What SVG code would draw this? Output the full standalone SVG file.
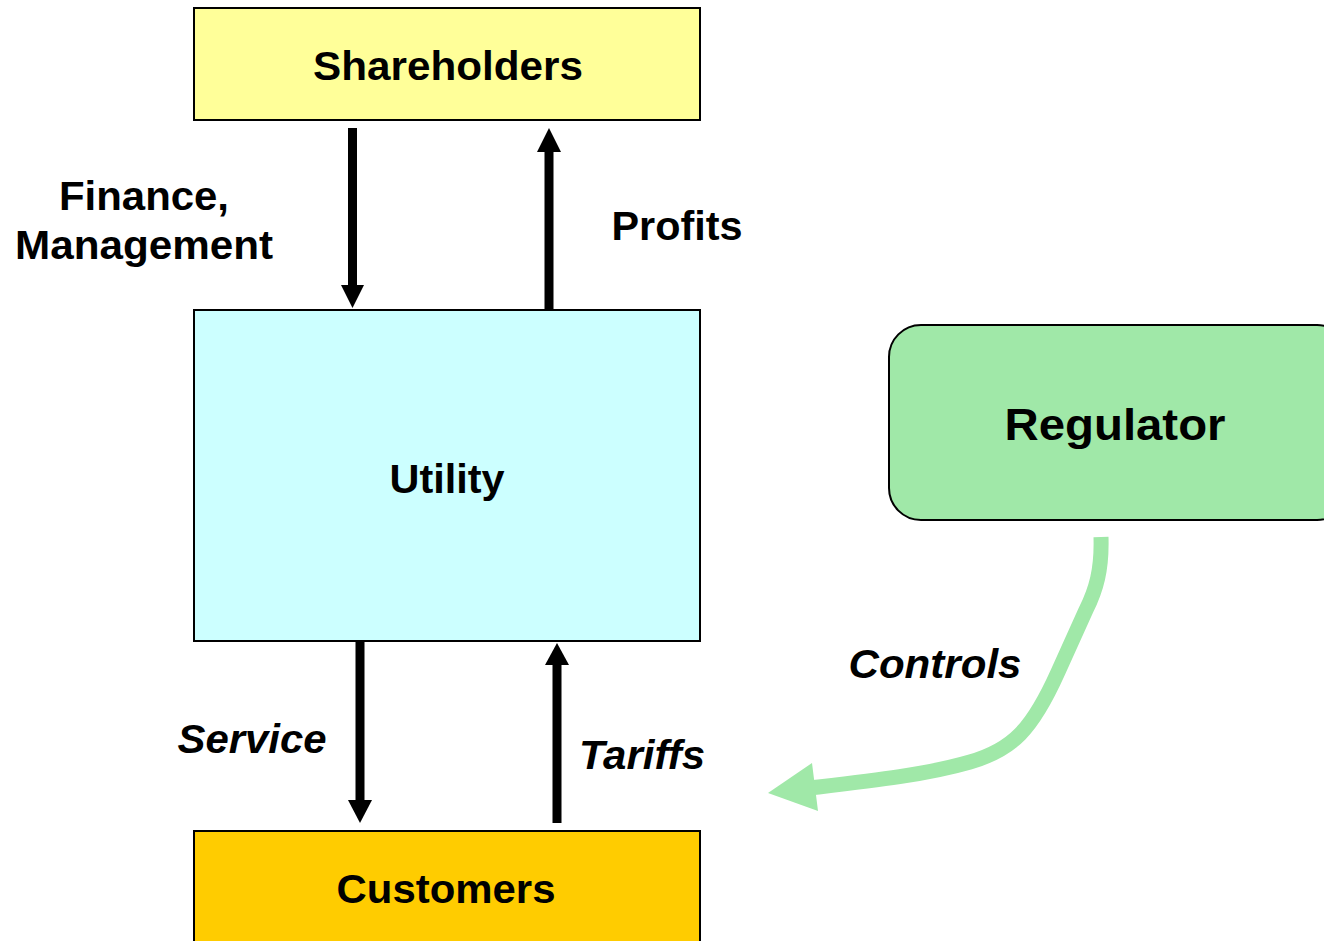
<svg xmlns="http://www.w3.org/2000/svg" width="1324" height="941" viewBox="0 0 1324 941">
  <style>
    .box { stroke: #000; stroke-width: 2; }
    .lbl { font-family: "Liberation Sans", Arial, sans-serif; font-weight: bold; fill: #000; }
    .it { font-style: italic; }
    .shaft { stroke: #000; stroke-width: 9; fill: none; }
    .head { fill: #000; }
  </style>
  <rect width="1324" height="941" fill="#fff"/>
  <g id="shareholders">
    <rect class="box" x="194" y="8" width="506" height="112" fill="#FFFF99"/>
    <text class="lbl" x="448" y="80" font-size="40" text-anchor="middle" textLength="270" lengthAdjust="spacingAndGlyphs">Shareholders</text>
  </g>
  <g id="utility">
    <rect class="box" x="194" y="310" width="506" height="331" fill="#CCFFFF"/>
    <text class="lbl" x="447" y="493" font-size="40" text-anchor="middle" textLength="115" lengthAdjust="spacingAndGlyphs">Utility</text>
  </g>
  <g id="customers">
    <rect class="box" x="194" y="831" width="506" height="130" fill="#FFCC00"/>
    <text class="lbl" x="446" y="903" font-size="40" text-anchor="middle" textLength="219" lengthAdjust="spacingAndGlyphs">Customers</text>
  </g>
  <g id="regulator">
    <rect class="box" x="889" y="325" width="460" height="195" rx="32" ry="32" fill="#A0E8A8"/>
    <text class="lbl" x="1115" y="440" font-size="44" text-anchor="middle" textLength="221" lengthAdjust="spacingAndGlyphs">Regulator</text>
  </g>
  <g id="connectors">
    <line class="shaft" x1="352.5" y1="128" x2="352.5" y2="290"/>
    <polygon class="head" points="341,285 364,285 352.5,308"/>
    <line class="shaft" x1="549" y1="148" x2="549" y2="309"/>
    <polygon class="head" points="537,152 561,152 549,128"/>
    <line class="shaft" x1="360" y1="642" x2="360" y2="805"/>
    <polygon class="head" points="348,800 372,800 360,823"/>
    <line class="shaft" x1="557" y1="660" x2="557" y2="823"/>
    <polygon class="head" points="545,665 569,665 557,643"/>
    <path d="M1101,537 C1102,570 1096,590 1086,610 L1058,672 C1032,730 1012,750 970,762 C925,775 870,781 810,788" fill="none" stroke="#A0E8A8" stroke-width="15"/>
    <polygon points="768,793 812,763 818,811" fill="#A0E8A8"/>
  </g>
  <g id="labels">
    <text class="lbl" x="144" y="210" font-size="40" text-anchor="middle" textLength="170" lengthAdjust="spacingAndGlyphs">Finance,</text>
    <text class="lbl" x="144" y="259" font-size="40" text-anchor="middle" textLength="258" lengthAdjust="spacingAndGlyphs">Management</text>
    <text class="lbl" x="677" y="240" font-size="40" text-anchor="middle" textLength="131" lengthAdjust="spacingAndGlyphs">Profits</text>
    <text class="lbl it" x="252" y="753" font-size="40" text-anchor="middle" textLength="149" lengthAdjust="spacingAndGlyphs">Service</text>
    <text class="lbl it" x="642" y="769" font-size="40" text-anchor="middle" textLength="126" lengthAdjust="spacingAndGlyphs">Tariffs</text>
    <text class="lbl it" x="935" y="678" font-size="40" text-anchor="middle" textLength="173" lengthAdjust="spacingAndGlyphs">Controls</text>
  </g>
</svg>
